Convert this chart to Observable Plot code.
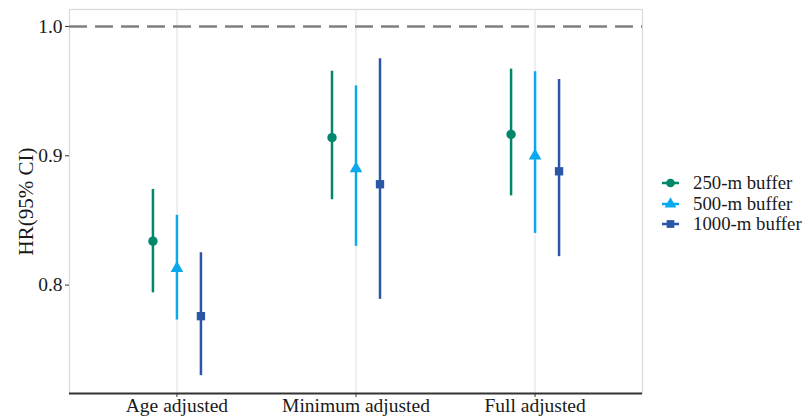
<!DOCTYPE html>
<html>
<head>
<meta charset="utf-8">
<script src="https://cdn.jsdelivr.net/npm/d3@7"></script>
<script src="https://cdn.jsdelivr.net/npm/@observablehq/plot@0.6"></script>
<style>
  html, body { margin: 0; padding: 0; background: #fff; }
  #wrap { position: relative; width: 809px; height: 416px; font-family: 'Liberation Serif', serif; }
  #legend { position: absolute; left: 660px; top: 173px; font-size: 18.8px; color: #1a1a1a; font-family: 'Liberation Serif', serif; }
  #legend .row { display: flex; align-items: center; height: 20.5px; }
  #legend svg { margin-right: 13px; }
</style>
</head>
<body>
<div id="wrap"><div id="legend"></div></div>
<script>
const categories = ["Age adjusted", "Minimum adjusted", "Full adjusted"];
const buffers = ["250-m buffer", "500-m buffer", "1000-m buffer"];
const colors = ["#00876C", "#0AA8EC", "#2B56A8"];
const symbols = ["circle", "triangle", "square"];
const hr250 = [0.834, 0.914, 0.9165];
const lo250 = [0.794, 0.866, 0.869];
const hi250 = [0.874, 0.9654, 0.967];
const hr500 = [0.813, 0.890, 0.900];
const lo500 = [0.773, 0.830, 0.840];
const hi500 = [0.854, 0.954, 0.965];
const hr1000 = [0.776, 0.878, 0.888];
const lo1000 = [0.730, 0.789, 0.822];
const hi1000 = [0.825, 0.975, 0.959];
const yTicks = [0.8, 0.9, 1.0];
const refLine = 1.0;
const yTitle = "HR(95% CI)";

const series = [[hr250, lo250, hi250], [hr500, lo500, hi500], [hr1000, lo1000, hi1000]];
const dodge = 0.134;
const data = [];
series.forEach(([hr, lo, hi], s) => {
  categories.forEach((c, i) => {
    data.push({pos: i + (s - 1) * dodge, hr: hr[i], lo: lo[i], hi: hi[i], buffer: buffers[s]});
  });
});

const FONT = "'Liberation Serif', serif";
const yDomain = [0.7162, 1.0131];
const chart = Plot.plot({
  width: 809,
  height: 416,
  marginLeft: 69,
  marginRight: 167,
  marginTop: 9,
  marginBottom: 23,
  style: {fontFamily: FONT, fontSize: "19.5px", color: "#1a1a1a", background: "#fff"},
  x: {domain: [-0.6, 2.6]},
  y: {domain: yDomain},
  color: {domain: buffers, range: colors},
  symbol: {domain: buffers, range: symbols},
  marks: [
    Plot.gridX([0, 1, 2], {stroke: "#ebebeb", strokeOpacity: 1, strokeWidth: 1.5}),
    Plot.frame({stroke: "#d9d9d9", strokeWidth: 1.2}),
    Plot.ruleY([refLine], {stroke: "#808080", strokeWidth: 2.6, strokeDasharray: "18,8"}),
    Plot.ruleX(data, {x: "pos", y1: "lo", y2: "hi", stroke: "buffer", strokeWidth: 2.5}),
    Plot.dot(data, {x: "pos", y: "hr", fill: "buffer", symbol: "buffer", r: 4.7, stroke: "none"}),
    Plot.ruleY([yDomain[0]], {stroke: "#333", strokeWidth: 2}),
    Plot.axisX([0, 1, 2], {tickFormat: i => categories[i], tickSize: 4, tickPadding: 1, fontSize: 19.5, fontFamily: FONT, label: null, stroke: "#333"}),
    Plot.axisY(yTicks, {tickFormat: d3.format(".1f"), tickSize: 4, tickPadding: 3, fontSize: 19.5, fontFamily: FONT, stroke: "#333", label: null}),
    Plot.text([yTitle], {frameAnchor: "left", textAnchor: "middle", dx: -43, rotate: -90, fontSize: 21, fontFamily: FONT, fill: "#1a1a1a"})
  ]
});
document.getElementById("wrap").prepend(chart);

const legend = document.getElementById("legend");
buffers.forEach((b, i) => {
  const row = document.createElement("div");
  row.className = "row";
  const sym = d3.symbol(i === 0 ? d3.symbolCircle : i === 1 ? d3.symbolTriangle : d3.symbolSquare, 60)();
  row.innerHTML = `<svg width="20" height="14"><line x1="2" x2="19" y1="7" y2="7" stroke="${colors[i]}" stroke-width="2.5"/><path transform="translate(10.5,7)" d="${sym}" fill="${colors[i]}"/></svg><span>${b}</span>`;
  legend.appendChild(row);
});
</script>
</body>
</html>
